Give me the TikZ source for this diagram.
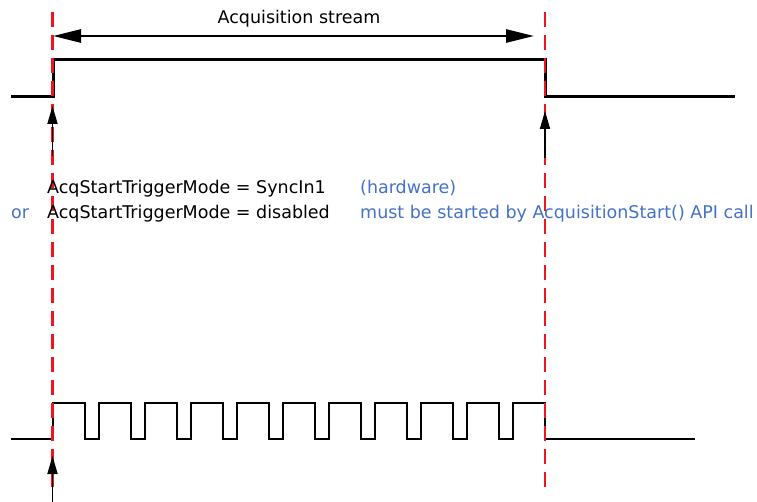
\documentclass[tikz,border=0pt]{standalone}
\usepackage{fontspec}
\setmainfont{DejaVu Sans}
\usetikzlibrary{arrows.meta}
\definecolor{apiblue}{RGB}{68,114,196}
\definecolor{marker}{RGB}{240,20,30}
\begin{document}
\begin{tikzpicture}[x=1pt,y=-1pt,
  sig/.style={line width=3pt,line join=miter},
  marker line/.style={draw=marker,line width=2.5pt,dash pattern=on 15pt off 8pt},
  streamarrow/.style={line width=2.8pt,{Triangle[length=28pt,width=13pt]}-{Triangle[length=28pt,width=13pt]}},
  trigarrow/.style={line width=1.8pt,-{Triangle[length=18pt,width=10pt]}},
  lbl/.style={inner sep=0pt,anchor=base west,font=\fontsize{17.5}{20}\selectfont},
  bluelbl/.style={lbl,text=apiblue}]
\useasboundingbox (0,0) rectangle (757,502);
% acquisition stream arrow
\coordinate (sa) at (53,36); \coordinate (sb) at (534,36);
\draw[streamarrow] (sa) -- (sb);
\node[inner sep=0pt,anchor=base,font=\fontsize{17.5}{20}\selectfont] (title) at (299,24) {Acquisition stream};
% top signal
\draw[sig] (11,97) -- (53,97) -- (53,60) -- (545,60) -- (545,97) -- (735,97);
% bottom signal
\draw[sig,line width=2.6pt] (11,439) -- (53,439) -- (53,403)
  foreach \i in {0,...,9} { -- ({85+46*\i},403) -- ({85+46*\i},439) -- ({99+46*\i},439) -- ({99+46*\i},403) }
  -- (545,403) -- (545,439) -- (695,439);
% markers
\coordinate (m1t) at (52.5,12); \coordinate (m1b) at (52.5,490);
\coordinate (m2t) at (545,12); \coordinate (m2b) at (545,490);
\draw[marker line] (m1t) -- (m1b);
\draw[marker line] (m2t) -- (m2b);
% trigger arrows
\coordinate (a1s) at (52.5,156); \coordinate (a1e) at (52.5,106);
\coordinate (a2s) at (545,158); \coordinate (a2e) at (545,111);
\coordinate (a3s) at (52.5,502); \coordinate (a3e) at (52.5,456);
\draw[trigarrow] (a1s) -- (a1e);
\draw[trigarrow] (a2s) -- (a2e);
\draw[trigarrow] (a3s) -- (a3e);
% texts
\node[lbl] (l1) at (47,194) {AcqStartTriggerMode = SyncIn1};
\node[bluelbl] (or) at (11,219) {or};
\node[lbl] (l2) at (47,219) {AcqStartTriggerMode = disabled};
\node[bluelbl] (hw) at (360,194) {(hardware)};
\node[bluelbl] (api) at (360,219) {must be started by AcquisitionStart() API call};
\end{tikzpicture}
\end{document}
